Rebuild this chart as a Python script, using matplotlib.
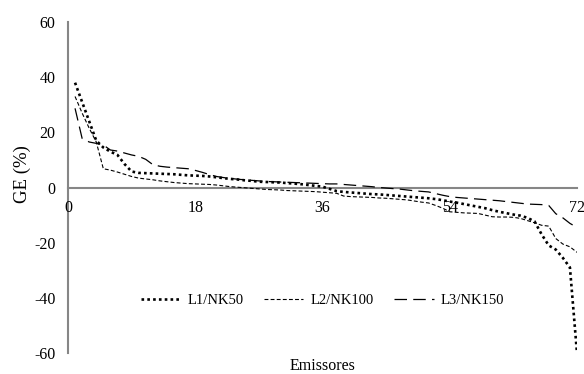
import matplotlib
matplotlib.use("Agg")
import matplotlib.pyplot as plt
import numpy as np

plt.rcParams['font.family'] = ['Liberation Serif', 'DejaVu Serif']
plt.rcParams['axes.unicode_minus'] = False

emissores = np.arange(1, 73)

l1_nk50 = [38, 31, 24, 17, 14.5, 13, 11.8, 8.5, 5.8, 5.3,
           5.2, 5.1, 5.0, 4.9, 4.8, 4.6, 4.4, 4.3, 4.2, 4.0,
           3.7, 3.4, 3.1, 2.9, 2.6, 2.4, 2.1, 2.0, 1.9, 1.8,
           1.6, 1.4, 1.2, 0.9, 0.6, 0.3, -0.5, -1.3, -1.6, -1.8,
           -2.0, -2.2, -2.4, -2.5, -2.7, -2.9, -3.1, -3.3, -3.5, -3.7,
           -3.9, -4.2, -4.6, -5.1, -5.5, -6.0, -6.5, -7.0, -7.5, -8.2,
           -8.8, -9.3, -9.8, -10.2, -11.0, -12.3, -17, -21, -22.5, -25.5,
           -29, -60]

l2_nk100 = [33, 27, 21.5, 16.5, 6.8, 6.3, 5.6, 4.8, 4.0, 3.4,
            3.1, 2.8, 2.4, 2.1, 1.8, 1.6, 1.4, 1.3, 1.2, 1.1,
            0.9, 0.6, 0.3, 0.1, -0.1, -0.3, -0.5, -0.7, -0.8, -0.9,
            -1.1, -1.2, -1.3, -1.4, -1.5, -1.7, -1.9, -2.1, -3.1, -3.3,
            -3.4, -3.5, -3.6, -3.8, -3.9, -4.1, -4.3, -4.5, -4.9, -5.3,
            -5.6, -6.5, -7.5, -8.8, -9.0, -9.2, -9.3, -9.4, -10.0, -10.6,
            -10.7, -10.7, -10.8, -11.2, -12.0, -12.8, -13.7, -14.0, -18.5, -20.5,
            -21.5, -23.5]

l3_nk150 = [28.7, 17.8, 16.5, 16, 15.4, 13.6, 13.2, 12.5, 11.8, 11.3,
            10.2, 8.3, 7.7, 7.4, 7.2, 7.0, 6.8, 6.2, 5.5, 4.7,
            4.0, 3.6, 3.3, 3.0, 2.8, 2.6, 2.4, 2.2, 2.1, 2.0,
            1.9, 1.8, 1.7, 1.6, 1.5, 1.4, 1.3, 1.3, 1.1, 0.9,
            0.7, 0.5, 0.3, 0.0, -0.2, -0.4, -0.6, -0.9, -1.2, -1.4,
            -1.6, -2.2, -2.8, -3.3, -3.6, -3.8, -4.0, -4.2, -4.4, -4.6,
            -4.8, -5.1, -5.4, -5.7, -6.0, -6.1, -6.2, -6.5, -9.5, -11,
            -13, -14.5]

series_labels = ['L1/NK50', 'L2/NK100', 'L3/NK150']
x_ticks = [0, 18, 36, 54, 72]
y_ticks = [-60, -40, -20, 0, 20, 40, 60]

fig = plt.figure(figsize=(5.84, 3.74), dpi=100)
ax = fig.add_axes([0.1164, 0.0561, 0.8716, 0.8851])

axis_grey = '#868686'

ax.plot(emissores, l1_nk50, color='black', lw=1.9, linestyle=(0, (1, 1.2)),
        dash_capstyle='butt', label=series_labels[0])
ax.plot(emissores, l2_nk100, color='black', lw=0.8, linestyle=(0, (3.5, 2)),
        label=series_labels[1])
ax.plot(emissores, l3_nk150, color='black', lw=0.9, linestyle=(0, (10, 5)),
        label=series_labels[2])

ax.set_xlim(0, 72)
ax.set_ylim(-60, 60)
ax.set_xticks(x_ticks)
ax.set_yticks(y_ticks)

for side in ['top', 'right']:
    ax.spines[side].set_visible(False)
ax.spines['bottom'].set_position(('data', 0))
for side in ['left', 'bottom']:
    ax.spines[side].set_color(axis_grey)
    ax.spines[side].set_linewidth(1.5)
    ax.spines[side].set_zorder(0)

ax.tick_params(axis='x', length=0, pad=9, labelsize=11.5)
ax.tick_params(axis='y', length=0, pad=9, labelsize=11.5)

ax.set_ylabel('GE (%)', fontsize=13.5)
ax.yaxis.set_label_coords(-0.09, 0.54)
ax.yaxis.label.set_va('center')
ax.set_xlabel('Emissores', fontsize=11.5)
ax.xaxis.set_label_coords(0.5, -0.039)
ax.xaxis.label.set_va('center')

ax.legend(loc='center', bbox_to_anchor=(0.5, 0.16), ncol=3, frameon=False,
          fontsize=10.5, handlelength=2.7, columnspacing=1.4, handletextpad=0.5)

fig.savefig('out.png', dpi=100)
